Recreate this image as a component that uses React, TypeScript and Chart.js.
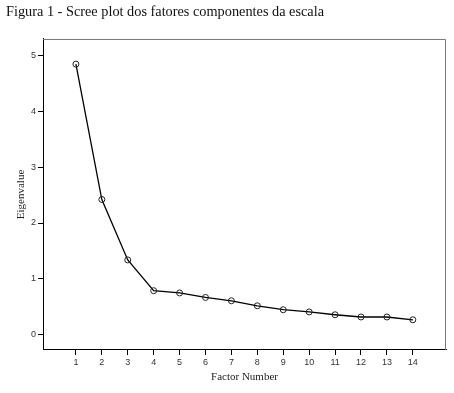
import React, { useEffect, useRef } from "react";
import { Chart, registerables } from "chart.js";

Chart.register(...registerables);

const titleText = "Figura 1 - Scree plot dos fatores componentes da escala";
const factorNumbers = [1, 2, 3, 4, 5, 6, 7, 8, 9, 10, 11, 12, 13, 14];
const eigenvalues = [4.84, 2.42, 1.34, 0.79, 0.75, 0.67, 0.61, 0.52, 0.45, 0.41, 0.36, 0.32, 0.32, 0.27];
const yTicks = [0, 1, 2, 3, 4, 5];
const xLabel = "Factor Number";
const yLabel = "Eigenvalue";

const framePlugin = {
  id: "frame",
  afterDraw(chart: any) {
    const { ctx, chartArea } = chart;
    ctx.save();
    ctx.strokeStyle = "#777";
    ctx.lineWidth = 1;
    ctx.beginPath();
    ctx.moveTo(chartArea.left, chartArea.top + 0.5);
    ctx.lineTo(chartArea.right - 0.5, chartArea.top + 0.5);
    ctx.lineTo(chartArea.right - 0.5, chartArea.bottom);
    ctx.stroke();
    ctx.restore();
  },
};

export default function App() {
  const ref = useRef<HTMLCanvasElement>(null);
  useEffect(() => {
    const chart = new Chart(ref.current!, {
      type: "line",
      data: {
        datasets: [
          {
            data: factorNumbers.map((x, i) => ({ x, y: eigenvalues[i] })),
            borderColor: "#000",
            borderWidth: 1.3,
            backgroundColor: "rgba(0,0,0,0)",
            pointRadius: 3,
            pointBorderWidth: 1,
            pointBorderColor: "#222",
            pointBackgroundColor: "rgba(0,0,0,0)",
            tension: 0,
          },
        ],
      },
      options: {
        animation: false,
        responsive: false,
        layout: { padding: { left: 6, right: 8, top: 0, bottom: 0 } },
        plugins: {
          legend: { display: false },
          tooltip: { enabled: false },
          title: {
            display: true,
            text: titleText,
            align: "start",
            color: "#111",
            font: { family: "'Liberation Serif', serif", size: 14.3, weight: "normal" },
            padding: { top: 4, bottom: 17.8 },
          },
        },
        scales: {
          x: {
            type: "linear",
            min: -0.27,
            max: 15.28,
            afterBuildTicks: (s: any) => {
              s.ticks = factorNumbers.map((v) => ({ value: v }));
            },
            afterFit: (s: any) => {
              s.height = 43;
            },
            ticks: {
              color: "#333",
              font: { family: "'Liberation Sans', Arial, sans-serif", size: 9 },
              padding: 2,
              autoSkip: false,
              maxRotation: 0,
            },
            grid: {
              display: true,
              drawOnChartArea: false,
              drawTicks: true,
              tickLength: 5,
              color: "#000",
            },
            border: { display: true, color: "#000", width: 1 },
            title: {
              display: true,
              text: xLabel,
              color: "#222",
              font: { family: "'Liberation Serif', serif", size: 11 },
              padding: { top: 0, bottom: 9.4 },
            },
          },
          y: {
            type: "linear",
            min: -0.27,
            max: 5.29,
            afterBuildTicks: (s: any) => {
              s.ticks = yTicks.map((v) => ({ value: v }));
            },
            afterFit: (s: any) => {
              s.width = 37;
            },
            ticks: {
              color: "#333",
              font: { family: "'Liberation Sans', Arial, sans-serif", size: 9 },
              padding: 2,
            },
            grid: {
              display: true,
              drawOnChartArea: false,
              drawTicks: true,
              tickLength: 5,
              color: "#000",
            },
            border: { display: true, color: "#000", width: 1 },
            title: {
              display: true,
              text: yLabel,
              color: "#222",
              font: { family: "'Liberation Serif', serif", size: 11 },
              padding: { top: 9, bottom: 0 },
            },
          },
        },
      },
      plugins: [framePlugin],
    });
    return () => chart.destroy();
  }, []);
  return (
    <div style={{ position: "fixed", left: 0, top: 0, width: 454, height: 393, background: "#fff" }}>
      <canvas ref={ref} width={454} height={393} style={{ display: "block" }} />
    </div>
  );
}
